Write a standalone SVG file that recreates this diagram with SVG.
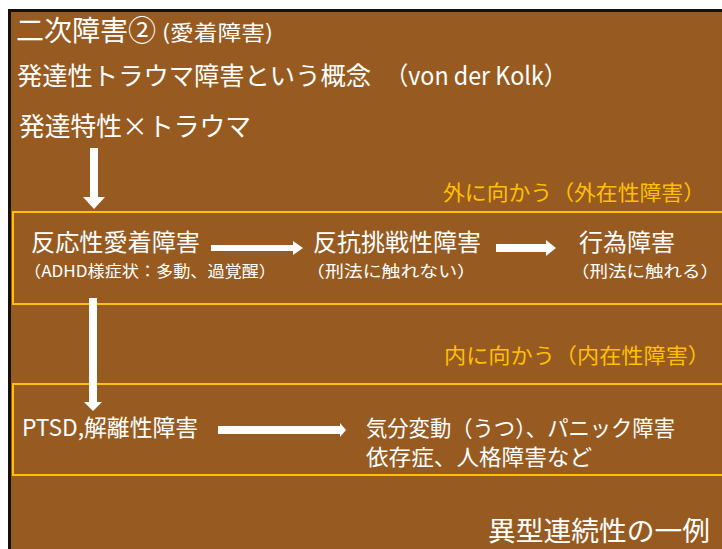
<svg xmlns="http://www.w3.org/2000/svg" width="722" height="549" viewBox="0 0 722 549">
<style>
.t{font-family:"Noto Sans CJK JP","Noto Sans",sans-serif;fill:#ffffff}
.o{font-family:"Noto Sans CJK JP","Noto Sans",sans-serif;fill:#FFC000}
.box{fill:none;stroke:#FFC000;stroke-width:2}
.arr{fill:#ffffff}
</style>
<rect x="0" y="0" width="722" height="549" fill="#ffffff"/>
<rect x="9.5" y="10.5" width="720" height="545" fill="#975B21" stroke="#1a0f05" stroke-width="3"/>
<g id="title">
<text class="t" x="16" y="41" font-size="28" textLength="140" lengthAdjust="spacingAndGlyphs">二次障害②</text>
<text class="t" x="162" y="40" font-size="21" textLength="111" lengthAdjust="spacingAndGlyphs">(愛着障害)</text>
<text class="t" x="17" y="85" font-size="25" textLength="354" lengthAdjust="spacingAndGlyphs">発達性トラウマ障害という概念</text>
<text class="t" x="385" y="85" font-size="25" textLength="182" lengthAdjust="spacingAndGlyphs">（von der Kolk）</text>
</g>
<g id="origin"><text class="t" x="19" y="136" font-size="26" textLength="232" lengthAdjust="spacingAndGlyphs">発達特性×トラウマ</text></g>
<g id="ext-box"><rect class="box" x="13" y="212" width="720" height="92"/>
<text class="o" x="443" y="200" font-size="21" textLength="262" lengthAdjust="spacingAndGlyphs">外に向かう（外在性障害）</text></g>
<g id="int-box"><rect class="box" x="13" y="384" width="720" height="91"/>
<text class="o" x="444" y="363" font-size="21" textLength="266" lengthAdjust="spacingAndGlyphs">内に向かう（内在性障害）</text></g>
<g id="rad"><text class="t" x="31" y="251" font-size="24" textLength="169" lengthAdjust="spacingAndGlyphs">反応性愛着障害</text>
<text class="t" x="24" y="277" font-size="16" textLength="252" lengthAdjust="spacingAndGlyphs">（ADHD様症状：多動、過覚醒）</text></g>
<g id="odd"><text class="t" x="313" y="251" font-size="24" textLength="168" lengthAdjust="spacingAndGlyphs">反抗挑戦性障害</text>
<text class="t" x="306" y="277" font-size="16" textLength="170" lengthAdjust="spacingAndGlyphs">（刑法に触れない）</text></g>
<g id="cd"><text class="t" x="579" y="251" font-size="24" textLength="96" lengthAdjust="spacingAndGlyphs">行為障害</text>
<text class="t" x="571" y="277" font-size="16" textLength="148" lengthAdjust="spacingAndGlyphs">（刑法に触れる）</text></g>
<g id="ptsd"><text class="t" x="22" y="436" font-size="23" textLength="176" lengthAdjust="spacingAndGlyphs">PTSD,解離性障害</text></g>
<g id="internal"><text class="t" x="366" y="436" font-size="22" textLength="309" lengthAdjust="spacingAndGlyphs">気分変動（うつ）、パニック障害</text>
<text class="t" x="366" y="465" font-size="22" textLength="226" lengthAdjust="spacingAndGlyphs">依存症、人格障害など</text></g>
<g id="note"><text class="t" x="488" y="541" font-size="27" textLength="222" lengthAdjust="spacingAndGlyphs">異型連続性の一例</text></g>
<g id="connectors">
<polygon class="arr" points="90,148 98,148 98,197 105,197 94,209 83,197 90,197"/>
<polygon class="arr" points="89,298 97,298 97,402 102,402 93,411 84,402 89,402"/>
<polygon class="arr" points="211,245 293,245 293,241 303,248 293,255 293,251 211,251"/>
<polygon class="arr" points="496,244 546,244 546,240 556,248 546,256 546,252 496,252"/>
<polygon class="arr" points="218,426 340,426 340,423 346,430 340,437 340,434 218,434"/>
</g>
</svg>
